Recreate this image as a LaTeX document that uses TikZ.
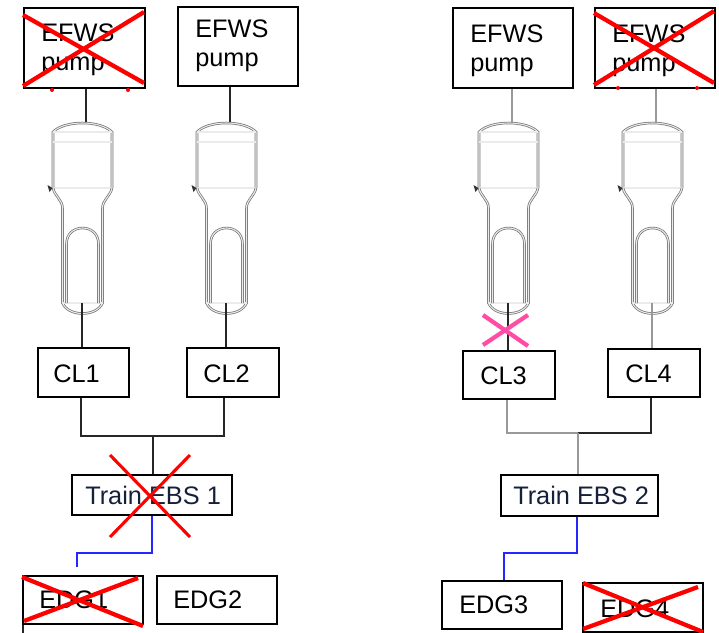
\documentclass[tikz,border=0pt]{standalone}
\usepackage{fontspec}
\setmainfont{Liberation Sans}
\begin{document}
\begin{tikzpicture}[x=0.75pt,y=-0.75pt,
  lbl/.style={anchor=base west,inner sep=0pt,font=\fontsize{19}{21.5}\selectfont},
  lbltwo/.style={lbl,align=left},
  ebslbl/.style={lbl,text=ebstext},
  wire/.style={draw=black!85,line width=1.2pt},
  greywire/.style={draw=black!40,line width=1.3pt},
  powerwire/.style={draw=blue!85,line width=1.2pt},
  shell/.style={draw=black!55,line width=0.55pt,double=black!8,double distance=0.8pt},
  knockout/.style={draw=red,line width=3.2pt},
  thinknockout/.style={draw=red,line width=2.3pt},
  pinkout/.style={draw=hotpink,line width=3.2pt}]
\definecolor{hotpink}{HTML}{FF4DA6}
\definecolor{ebstext}{HTML}{16203A}
\useasboundingbox (0,0) rectangle (719,633);

% rectangular component box given by its corners
\newcommand\unitbox[5]{%
  \node[draw,line width=1.3pt,inner sep=0pt,anchor=north west,
        minimum width={(#4-#2)*0.75pt},minimum height={(#5-#3)*0.75pt}]
        (#1) at (#2,#3) {};}

% steam generator outline centred on x = #1, coordinates named #2-top / #2-bot
\newcommand\sgvessel[2]{%
  \begin{scope}[shift={(#1,0)}]
    \draw[shell] (-29.5,188) -- (-29.5,132)
      .. controls (-18,120) and (18,120) .. (29.5,132) -- (29.5,188);
    \draw[shell] (-29.5,142) -- (29.5,142);
    \draw[shell] (-29.5,132) -- (29.5,132);
    \draw[shell] (-29.5,188) -- (29.5,188);
    \draw[shell] (-29.5,188) .. controls (-28,196) and (-20,200) .. (-20,208) -- (-20,303)
      .. controls (-14,317) and (14,317) .. (20,303) -- (20,208)
      .. controls (20,200) and (28,196) .. (29.5,188);
    \draw[shell] (-20,303) -- (20,303);
    \draw[shell] (-16,303) -- (-16,244) .. controls (-16,234) and (-9,228) .. (0,228)
      .. controls (9,228) and (16,234) .. (16,244) -- (16,303);
    \fill[black!80] (-35,185) -- (-30,188) -- (-33,192) -- cycle;
    \coordinate (#2-top) at (3.5,122);
    \coordinate (#2-bot) at (-0.5,303);
  \end{scope}}

% EFWS pumps
\unitbox{pumpA}{23}{7}{144}{87}
\unitbox{pumpB}{177}{6}{297}{85}
\unitbox{pumpC}{452}{7}{572}{87}
\unitbox{pumpD}{594}{7}{714}{87}
\node[lbltwo] (pumpAtxt) at (41,70) {EFWS\\pump};
\node[lbltwo] (pumpBtxt) at (195,66) {EFWS\\pump};
\node[lbltwo] (pumpCtxt) at (470,71) {EFWS\\pump};
\node[lbltwo] (pumpDtxt) at (612,71) {EFWS\\pump};

% steam generators
\sgvessel{82.5}{sgA}
\sgvessel{226.5}{sgB}
\sgvessel{508.5}{sgC}
\sgvessel{652.5}{sgD}

% cold legs
\unitbox{clA}{37}{347}{128}{396}
\unitbox{clB}{186}{347}{278}{396}
\unitbox{clC}{462}{350}{554}{398}
\unitbox{clD}{607}{348}{699}{396}
\node[lbl] (clAtxt) at (53,382) {CL1};
\node[lbl] (clBtxt) at (203,382) {CL2};
\node[lbl] (clCtxt) at (480,384) {CL3};
\node[lbl] (clDtxt) at (625,382) {CL4};

% EBS trains
\unitbox{ebsA}{71}{474}{231}{514}
\unitbox{ebsB}{500}{474}{657}{515}
\node[ebslbl] (ebsAtxt) at (85,504) {Train EBS 1};
\node[ebslbl] (ebsBtxt) at (513,504) {Train EBS 2};

% diesel generators
\unitbox{edgA}{22}{575}{142}{623}
\unitbox{edgB}{156}{575}{276}{623}
\unitbox{edgC}{441}{580}{561}{628}
\unitbox{edgD}{582}{582}{702}{631}
\node[lbl] (edgAtxt) at (39,608) {EDG1};
\node[lbl] (edgBtxt) at (173,608) {EDG2};
\node[lbl] (edgCtxt) at (459,613) {EDG3};
\node[lbl] (edgDtxt) at (600,617) {EDG4};

% pump to steam generator
\draw[wire] (pumpA.south -| sgA-top) -- (sgA-top);
\draw[wire] (pumpB.south -| sgB-top) -- (sgB-top);
\draw[greywire] (pumpC.south -| sgC-top) -- (sgC-top);
\draw[greywire] (pumpD.south -| sgD-top) -- (sgD-top);

% steam generator to cold leg
\draw[wire] (sgA-bot) -- (sgA-bot |- clA.north);
\draw[wire] (sgB-bot) -- (sgB-bot |- clB.north);
\draw[wire] (sgC-bot) -- (sgC-bot |- clC.north);
\draw[greywire] (sgD-bot) -- (sgD-bot |- clD.north);

% cold legs to EBS trains
\coordinate (busA) at (153,436);
\coordinate (busB) at (578,433);
\coordinate (tapA) at (81,0);
\coordinate (tapB) at (224,0);
\coordinate (tapC) at (507,0);
\coordinate (tapD) at (651,0);
\draw[wire] (clA.south -| tapA) |- (busA) -| (clB.south -| tapB);
\draw[wire] (busA) -- (busA |- ebsA.north);
\draw[greywire] (clC.south -| tapC) |- (busB);
\draw[wire] (busB) -| (clD.south -| tapD);
\draw[greywire] (busB) -- (busB |- ebsB.north);

% EBS power supplies
\coordinate (feedA) at (77,567);
\coordinate (bendA) at (77,553);
\coordinate (outA) at (152,0);
\coordinate (bendB) at (504,553);
\coordinate (outB) at (577,0);
\draw[powerwire] (ebsA.south -| outA) |- (bendA) -- (feedA);
\draw[powerwire] (ebsB.south -| outB) |- (bendB) -- (bendB |- edgC.north);
\coordinate (edgAtail) at (23,633);
\draw[wire] (edgA.south west -| edgAtail) -- (edgAtail);

% failed equipment
\draw[knockout] (23,15) -- (144,83);
\draw[knockout] (23,86) -- (144,12);
\fill[red] (52,90) circle (2);
\fill[red] (128,90) circle (2);
\draw[knockout] (594,13) -- (714,83);
\draw[knockout] (594,85) -- (714,11);
\fill[red] (618,88) circle (2);
\fill[red] (697,88) circle (2);
\draw[thinknockout] (110,455) -- (190,537);
\draw[thinknockout] (190,455) -- (110,537);
\draw[knockout] (22,577) -- (143,626);
\draw[knockout] (24,621) -- (138,578);
\draw[knockout] (583,583) -- (703,632);
\draw[knockout] (583,629) -- (698,587);
\draw[pinkout] (483,315) -- (528,346);
\draw[pinkout] (528,315) -- (483,345);
\end{tikzpicture}
\end{document}
